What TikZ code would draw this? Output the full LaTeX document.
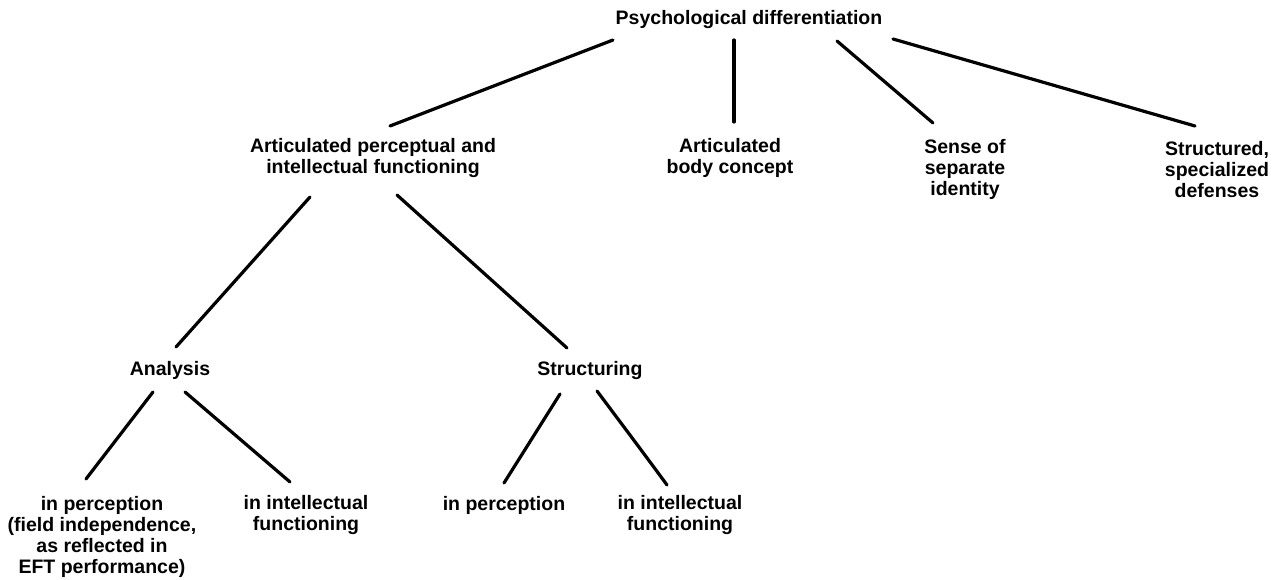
\documentclass[tikz,border=0pt]{standalone}
\usepackage{fontspec}
\setmainfont{Liberation Sans}
\usetikzlibrary{calc}

\begin{document}
\begin{tikzpicture}[x=1pt, y=-1pt,
        lbl/.style={font=\bfseries\fontsize{19.5}{21}\selectfont, align=center, inner sep=0pt},
        branch/.style={line width=3.2pt, line cap=round}]
        % --- 1. Page ---
        \useasboundingbox (0,0) rectangle (1280,580);

        % --- 2. Nodes ---
        \node[lbl] (root) at (749,20) {Psychological differentiation};
        \node[lbl] (art) at (373,158) {Articulated perceptual and\\intellectual functioning};
        \node[lbl] (body) at (730,158) {Articulated\\body concept};
        \node[lbl] (sense) at (965,169) {Sense of\\separate\\identity};
        \node[lbl] (struct) at (1217,170) {Structured,\\specialized\\defenses};
        \node[lbl] (analysis) at (170,370) {Analysis};
        \node[lbl] (structuring) at (590,370) {Structuring};
        \node[lbl] (aperc) at (102,537) {in perception\\(field independence,\\as reflected in\\EFT performance)};
        \node[lbl] (aint) at (306,515) {in intellectual\\functioning};
        \node[lbl] (sperc) at (504,505) {in perception};
        \node[lbl] (sint) at (680,515) {in intellectual\\functioning};

        % --- 3. Branches from the top ---
        \draw[branch] ($(root)+(-136,20)$) -- ($(art)+(17,-32)$);
        \draw[branch] ($(root)+(-15,20)$) -- ($(body)+(4,-36)$);
        \draw[branch] ($(root)+(88,21)$) -- ($(sense)+(-32,-46)$);
        \draw[branch] ($(root)+(144,19)$) -- ($(struct)+(-22,-44)$);

        % --- 4. Analysis and structuring ---
        \draw[branch] ($(art)+(-63,39)$) -- ($(analysis)+(6,-23)$);
        \draw[branch] ($(art)+(24,37)$) -- ($(structuring)+(-23,-22)$);

        \draw[branch] ($(analysis)+(-17,22)$) -- ($(aperc)+(-16,-58)$);
        \draw[branch] ($(analysis)+(15,22)$) -- ($(aint)+(-16,-33)$);

        \draw[branch] ($(structuring)+(-30,24)$) -- ($(sperc)+(0,-22)$);
        \draw[branch] ($(structuring)+(7,21)$) .. controls ($(structuring)+(25,45)$) and ($(sint)+(-35,-60)$) .. ($(sint)+(-13,-30)$);
    \end{tikzpicture}
\end{document}
